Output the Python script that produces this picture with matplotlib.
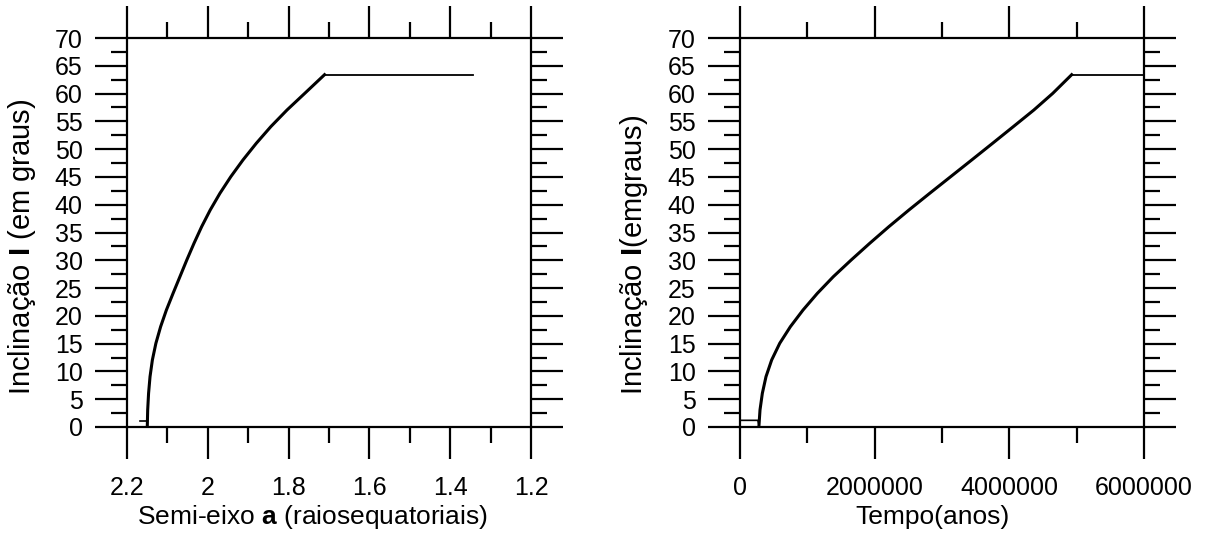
import numpy as np
import matplotlib
matplotlib.use('Agg')
import matplotlib.pyplot as plt
from matplotlib.ticker import MultipleLocator, FuncFormatter

plt.rcParams['font.family'] = ['Liberation Sans', 'DejaVu Sans']
plt.rcParams['mathtext.fontset'] = 'custom'
plt.rcParams['mathtext.rm'] = 'Liberation Sans'
plt.rcParams['mathtext.bf'] = 'Liberation Sans:bold'
plt.rcParams['font.size'] = 18

# inclinação em função do semi-eixo
a_ini = [2.168, 2.151]
I_ini_a = [1.08, 1.08]
a_curva = [2.1497, 2.1488, 2.1466, 2.1430, 2.1372, 2.1285, 2.1168, 2.1025,
           2.0860, 2.0690, 2.0520, 2.0342, 2.0152, 1.9940, 1.9700, 1.9430,
           1.9130, 1.8800, 1.8440, 1.8040, 1.7600, 1.7110]
I_curva_a = [0.36, 3.06, 6.06, 9.06, 12.06, 15.06, 18.05, 21.05,
             24.05, 27.05, 30.05, 33.05, 36.05, 39.05, 42.05, 45.05,
             48.05, 51.05, 54.05, 57.04, 60.04, 63.4]
a_plat = [1.7110, 1.343]
I_plat_a = [63.4, 63.4]

# inclinação em função do tempo
t_ini = [0, 265000, 282000]
I_ini_t = [1.2, 1.2, 0.36]
t_curva = [282200, 297000, 331700, 386100, 470300, 590000, 748000, 936000,
           1148500, 1386100, 1651000, 1926000, 2211000, 2509000, 2817000,
           3129000, 3441000, 3751000, 4059000, 4364000, 4645000, 4926000]
I_curva_t = [0.36, 3.06, 6.06, 9.06, 12.06, 15.06, 18.05, 21.05,
             24.05, 27.05, 30.05, 33.05, 36.05, 39.05, 42.05,
             45.05, 48.05, 51.05, 54.05, 57.04, 60.04, 63.4]
t_plat = [4926000, 6000000]
I_plat_t = [63.4, 63.4]

fig = plt.figure(figsize=(12.06, 5.35), dpi=100)
ax1 = fig.add_axes([127 / 1206, 108 / 535, 404 / 1206, 389 / 535])
ax2 = fig.add_axes([740 / 1206, 108 / 535, 404 / 1206, 389 / 535])


def estilo(ax):
    for s in ax.spines.values():
        s.set_linewidth(1.6)
    ax.tick_params(which='both', direction='out', top=True, right=True,
                   labeltop=False, labelright=False, width=1.6)
    ax.tick_params(which='major', length=23)
    ax.tick_params(which='minor', length=11.5)
    ax.tick_params(axis='x', pad=12)
    ax.tick_params(axis='y', pad=9)
    ax.set_ylim(0, 70)
    ax.yaxis.set_major_locator(MultipleLocator(5))
    ax.yaxis.set_minor_locator(MultipleLocator(2.5))


estilo(ax1)
ax1.plot(a_ini, I_ini_a, color='black', lw=1.2, clip_on=False)
ax1.plot(a_curva, I_curva_a, color='black', lw=2.2, clip_on=False)
ax1.plot(a_plat, I_plat_a, color='black', lw=1.3)
ax1.set_xlim(2.2, 1.2)
ax1.xaxis.set_major_locator(MultipleLocator(0.2))
ax1.xaxis.set_minor_locator(MultipleLocator(0.1))
ax1.xaxis.set_major_formatter(FuncFormatter(lambda v, p: '%g' % round(v, 2)))

estilo(ax2)
ax2.plot(t_ini, I_ini_t, color='black', lw=1.2, clip_on=False)
ax2.plot(t_curva, I_curva_t, color='black', lw=2.2, clip_on=False)
ax2.plot(t_plat, I_plat_t, color='black', lw=1.3)
ax2.set_xlim(0, 6000000)
ax2.xaxis.set_major_locator(MultipleLocator(2000000))
ax2.xaxis.set_minor_locator(MultipleLocator(1000000))
ax2.xaxis.set_major_formatter(FuncFormatter(lambda v, p: '%d' % v))

# rótulos dos eixos
fig.text(312 / 1206, 1 - 517 / 535, r'Semi-eixo $\mathbf{a}$ (raiosequatoriais)',
         fontsize=19, ha='center', va='center')
fig.text(932 / 1206, 1 - 517 / 535, 'Tempo(anos)',
         fontsize=19, ha='center', va='center')
fig.text(22 / 1206, 1 - 247 / 535, r'Inclinação $\mathbf{I}$ (em graus)',
         fontsize=21, rotation=90, ha='center', va='center')
fig.text(634 / 1206, 1 - 255 / 535, r'Inclinação $\mathbf{I}$(emgraus)',
         fontsize=21, rotation=90, ha='center', va='center')

fig.savefig('out.png', dpi=100)
